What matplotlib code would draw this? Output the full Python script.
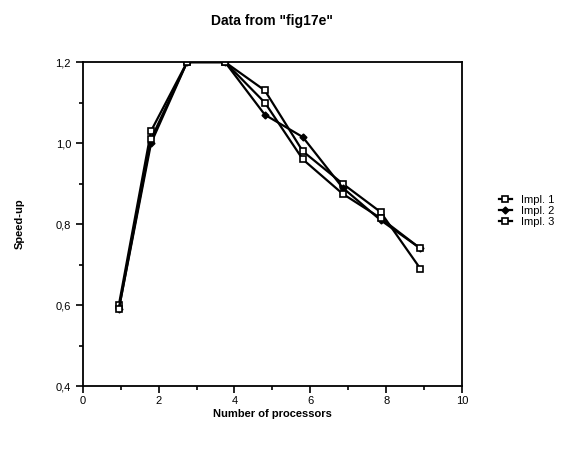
import matplotlib
matplotlib.use("Agg")
import matplotlib.pyplot as plt
from matplotlib.ticker import MultipleLocator, FuncFormatter

plt.rcParams['font.family'] = ['Liberation Sans', 'DejaVu Sans']

# donnees
procs = [0.95, 1.8, 2.75, 3.75, 4.8, 5.8, 6.85, 7.85, 8.9]
impl1 = [0.60, 1.03, 1.20, 1.20, 1.13, 0.98, 0.90, 0.83, 0.69]
impl2 = [0.59, 1.00, 1.20, 1.20, 1.07, 1.015, 0.89, 0.81, 0.74]
impl3 = [0.59, 1.01, 1.20, 1.20, 1.10, 0.96, 0.875, 0.815, 0.74]

fig = plt.figure(figsize=(5.79, 4.5), dpi=100)
ax = fig.add_axes([0.143, 0.142, 0.655, 0.72])

ax.plot(procs, impl1, color='black', lw=1.6, marker='s', ms=5, mfc='white', mec='black', mew=1.2, label='Impl. 1')
ax.plot(procs, impl2, color='black', lw=1.6, marker='D', ms=3.5, mfc='black', mec='black', label='Impl. 2')
ax.plot(procs, impl3, color='black', lw=1.6, marker='s', ms=5, mfc='white', mec='black', mew=1.2, label='Impl. 3')

ax.set_xlim(0, 10)
ax.set_ylim(0.4, 1.2)
ax.xaxis.set_major_locator(MultipleLocator(2))
ax.xaxis.set_minor_locator(MultipleLocator(1))
ax.yaxis.set_major_locator(MultipleLocator(0.2))
ax.yaxis.set_minor_locator(MultipleLocator(0.1))
ax.yaxis.set_major_formatter(FuncFormatter(lambda v, p: f"{v:.1f}".replace('.', ',')))
ax.tick_params(which='both', direction='out', labelsize=8, width=1.2)
ax.tick_params(axis='x', pad=2)
ax.tick_params(which='major', length=5)
ax.tick_params(which='minor', length=3)
for s in ax.spines.values():
    s.set_linewidth(1.3)

ax.set_title('Data from "fig17e"', fontsize=10, fontweight='bold', pad=27)
ax.set_xlabel('Number of processors', fontsize=8, fontweight='bold', labelpad=2)
ax.set_ylabel('Speed-up', fontsize=8, fontweight='bold', labelpad=22)

ax.legend(loc='center left', bbox_to_anchor=(1.07, 0.54), frameon=False, fontsize=8,
          handlelength=1.2, handletextpad=0.8, labelspacing=0.1)

fig.savefig('out.png', dpi=100)
